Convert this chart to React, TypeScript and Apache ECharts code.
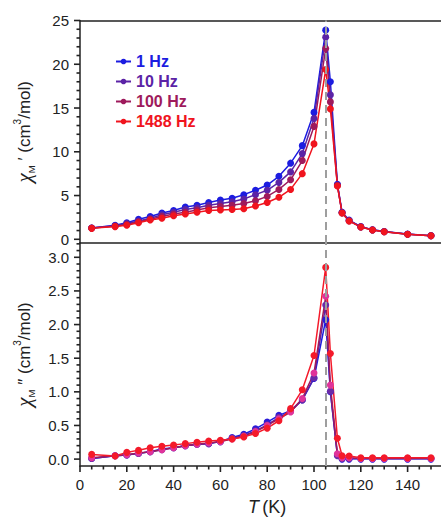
import React, { useEffect, useRef } from "react";
import * as echarts from "echarts";

const temperatures = [5, 15, 20, 25, 30, 35, 40, 45, 50, 55, 60, 65, 70, 75, 80, 85, 90, 95, 100, 105, 107, 110, 112, 115, 120, 125, 130, 140, 150];

const seriesNames = ["1 Hz", "10 Hz", "100 Hz", "1488 Hz"];
const legendColors = ["#1c1ce0", "#5b23a6", "#9e1a5c", "#f0141e"];
const bottomColors = ["#2a1ad8", "#6a2aa8", "#e0339a", "#f41a2a"];

const chiReal1Hz = [1.3, 1.6, 1.9, 2.3, 2.6, 3.0, 3.3, 3.7, 3.9, 4.2, 4.5, 4.7, 5.1, 5.6, 6.2, 7.2, 8.7, 10.7, 14.5, 23.9, 18.0, 6.3, 3.1, 2.2, 1.45, 1.1, 0.9, 0.6, 0.42];
const chiReal10Hz = [1.3, 1.55, 1.8, 2.1, 2.4, 2.8, 3.1, 3.4, 3.6, 3.9, 4.1, 4.3, 4.6, 5.1, 5.6, 6.5, 7.7, 9.8, 13.8, 23.1, 16.5, 6.2, 3.05, 2.15, 1.42, 1.08, 0.88, 0.58, 0.41];
const chiReal100Hz = [1.3, 1.5, 1.7, 2.0, 2.3, 2.6, 2.9, 3.1, 3.35, 3.6, 3.75, 3.9, 4.1, 4.4, 4.9, 5.7, 6.8, 9.0, 12.9, 21.8, 15.7, 6.15, 3.0, 2.1, 1.4, 1.06, 0.87, 0.57, 0.41];
const chiReal1488Hz = [1.25, 1.45, 1.6, 1.9, 2.2, 2.4, 2.7, 2.9, 3.1, 3.3, 3.35, 3.4, 3.5, 3.8, 4.2, 4.8, 5.7, 7.5, 10.9, 19.4, 14.9, 6.1, 3.0, 2.1, 1.4, 1.06, 0.87, 0.57, 0.41];

const chiImag1Hz = [0.01, 0.05, 0.06, 0.085, 0.11, 0.15, 0.17, 0.2, 0.22, 0.23, 0.26, 0.32, 0.37, 0.45, 0.55, 0.65, 0.72, 0.88, 1.2, 2.07, 1.0, 0.06, 0.0, 0.0, 0.0, 0.0, 0.0, 0.0, 0.0];
const chiImag10Hz = [0.01, 0.05, 0.06, 0.085, 0.11, 0.14, 0.17, 0.2, 0.22, 0.23, 0.26, 0.31, 0.35, 0.42, 0.51, 0.62, 0.71, 0.88, 1.21, 2.29, 1.01, 0.05, 0.01, 0.01, 0.01, 0.01, 0.01, 0.01, 0.01];
const chiImag100Hz = [0.02, 0.05, 0.065, 0.09, 0.11, 0.14, 0.17, 0.2, 0.22, 0.24, 0.26, 0.3, 0.34, 0.41, 0.5, 0.6, 0.7, 0.9, 1.28, 2.42, 1.1, 0.08, 0.02, 0.02, 0.01, 0.01, 0.01, 0.01, 0.01];
const chiImag1488Hz = [0.07, 0.045, 0.1, 0.13, 0.17, 0.19, 0.21, 0.23, 0.25, 0.27, 0.28, 0.3, 0.33, 0.38, 0.46, 0.57, 0.75, 1.03, 1.54, 2.85, 1.57, 0.31, 0.05, 0.045, 0.02, 0.02, 0.02, 0.02, 0.02];

// axis ranges and tick steps
const xMin = 0;
const xMax = 160;
const xStep = 20;
const xMinorStep = 5;
const yTopMin = 0;
const yTopMax = 25;
const yTopStep = 5;
const yTopMinorStep = 1;
const yBottomMin = 0;
const yBottomMax = 3;
const yBottomStep = 0.5;
const yBottomMinorStep = 0.1;
const yTopFrameMin = -0.5;
const yBottomFrameMin = -0.1;
const yBottomFrameTop = 3.2;

const peakTemperature = 105;

const topData = [chiReal1Hz, chiReal10Hz, chiReal100Hz, chiReal1488Hz];
const bottomData = [chiImag1Hz, chiImag10Hz, chiImag100Hz, chiImag1488Hz];

const FONT = "'Liberation Sans', Arial, sans-serif";
const AXIS_COLOR = "#222222";
const TEXT_COLOR = "#222";
const MAJOR_LEN = 6;
const MINOR_LEN = 3.5;

// layout (pixels)
const PLOT_LEFT = 80;
const PLOT_WIDTH = 374.4; // 0..160 K
const TOP_FRAME = { top: 20.5, height: 222.5 };
const BOTTOM_FRAME = { top: 243, height: 223 };
const TOP_DATA = { top: 20.5, height: 218.8 };
const BOTTOM_DATA = { top: 257.3, height: 201.8 };

function pairs(values: number[]) {
  return temperatures.map((t, i) => [t, values[i]]);
}

function tickValues(from: number, to: number, step: number) {
  const out: number[] = [];
  const n = Math.round((to - from) / step);
  for (let i = 0; i <= n; i++) out.push(+(from + i * step).toFixed(6));
  return out;
}

function isMultiple(v: number, step: number) {
  const r = v / step;
  return Math.abs(r - Math.round(r)) < 1e-6;
}

function nameRich() {
  return {
    c: { fontFamily: "'Liberation Serif', serif", fontStyle: "italic", fontSize: 21, color: TEXT_COLOR, lineHeight: 24, verticalAlign: "middle" },
    s: { fontFamily: FONT, fontSize: 9.5, color: TEXT_COLOR, lineHeight: 24, verticalAlign: "bottom" },
    p: { fontFamily: FONT, fontSize: 17, color: TEXT_COLOR, lineHeight: 24, verticalAlign: "middle" },
    n: { fontFamily: FONT, fontSize: 17, color: TEXT_COLOR, lineHeight: 24, verticalAlign: "middle" },
    e: { fontFamily: FONT, fontSize: 10, color: TEXT_COLOR, lineHeight: 24, verticalAlign: "top" },
  };
}

const lineOnly = () => ({ show: true, lineStyle: { color: AXIS_COLOR, width: 1.5 } });
const noTick = () => ({ show: false });
const noLabel = () => ({ show: false });
const noSplit = () => ({ show: false });

export default function App() {
  const ref = useRef<HTMLDivElement>(null);

  useEffect(() => {
    if (!ref.current) return;
    const chart = echarts.init(ref.current, undefined, { renderer: "svg" });

    const lineSeries: any[] = [];
    topData.forEach((vals, i) => {
      lineSeries.push({
        name: seriesNames[i],
        type: "line",
        xAxisIndex: 3,
        yAxisIndex: 2,
        data: pairs(vals),
        symbol: "circle",
        symbolSize: 7,
        color: legendColors[i],
        lineStyle: { width: 1.5, color: legendColors[i] },
        itemStyle: { color: legendColors[i] },
        z: 3,
      });
    });
    bottomData.forEach((vals, i) => {
      lineSeries.push({
        name: seriesNames[i],
        type: "line",
        xAxisIndex: 4,
        yAxisIndex: 3,
        data: pairs(vals),
        symbol: "circle",
        symbolSize: 7,
        color: bottomColors[i],
        lineStyle: { width: 1.5, color: i === 3 ? bottomColors[i] : legendColors[i] },
        itemStyle: { color: bottomColors[i] },
        z: 3,
      });
    });

    const guide = (xi: number, yi: number) => ({
      name: "guide" + xi,
      type: "line",
      xAxisIndex: xi,
      yAxisIndex: yi,
      data: [],
      z: 1,
      markLine: {
        silent: true,
        symbol: ["none", "none"],
        label: { show: false },
        lineStyle: { color: "#9e9e9e", type: [8, 5], width: 2 },
        data: [{ xAxis: peakTemperature }],
        animation: false,
      },
    });

    const makeGrid = (f: { top: number; height: number }) => ({
      left: PLOT_LEFT, top: f.top, width: PLOT_WIDTH, height: f.height, outerBoundsMode: "none",
    });

    const option: any = {
      animation: false,
      grid: [makeGrid(TOP_FRAME), makeGrid(BOTTOM_FRAME), makeGrid(TOP_DATA), makeGrid(BOTTOM_DATA)],
      legend: {
        orient: "vertical",
        left: 110,
        top: 48,
        itemWidth: 15,
        itemHeight: 7,
        itemGap: 3,
        textStyle: { fontFamily: FONT, fontSize: 16, fontWeight: "bold", lineHeight: 17 },
        data: seriesNames.map((n, i) => ({ name: n, textStyle: { color: legendColors[i] } })),
      },
      xAxis: [
        { type: "value", gridIndex: 0, min: xMin, max: xMax, interval: xStep, position: "bottom",
          axisLine: { ...lineOnly(), onZero: false }, axisTick: noTick(), axisLabel: noLabel(), splitLine: noSplit() },
        { type: "value", gridIndex: 0, min: xMin, max: xMax, interval: xStep, position: "top",
          axisLine: { ...lineOnly(), onZero: false }, axisTick: noTick(), axisLabel: noLabel(), splitLine: noSplit() },
        {
          type: "value", gridIndex: 1, min: xMin, max: xMax, interval: xStep, position: "bottom",
          axisLine: { ...lineOnly(), onZero: false },
          axisTick: noTick(),
          axisLabel: {
            show: true, margin: 11, fontSize: 15, color: TEXT_COLOR, fontFamily: FONT,
            formatter: (v: number) => (v < xMax ? String(v) : ""),
          },
          splitLine: noSplit(),
        },
        { type: "value", gridIndex: 2, min: xMin, max: xMax, interval: xStep,
          axisLine: { show: false }, axisTick: noTick(), axisLabel: noLabel(), splitLine: noSplit() },
        {
          type: "value", gridIndex: 3, min: xMin, max: xMax, interval: xStep, position: "bottom",
          name: "{t|T} {n|(K)}", nameLocation: "middle", nameGap: 39,
          nameTextStyle: {
            rich: {
              t: { fontFamily: FONT, fontStyle: "italic", fontSize: 18, color: TEXT_COLOR },
              n: { fontFamily: FONT, fontSize: 18, color: TEXT_COLOR },
            },
          },
          axisLine: { show: false }, axisTick: noTick(), axisLabel: noLabel(), splitLine: noSplit(),
        },
      ],
      yAxis: [
        {
          type: "value", gridIndex: 0, min: yTopFrameMin, max: yTopMax,
          name: "{c|χ}{s|M}{p| ′ }{n|(cm}{e|3}{n|/mol)}", nameLocation: "middle", nameGap: 44, nameRotate: 90,
          nameTextStyle: { rich: nameRich() },
          axisLine: { ...lineOnly(), onZero: false }, axisTick: noTick(), axisLabel: noLabel(), splitLine: noSplit(),
        },
        {
          type: "value", gridIndex: 1, min: yBottomFrameMin, max: yBottomFrameTop,
          name: "{c|χ}{s|M}{p| ″ }{n|(cm}{e|3}{n|/mol)}", nameLocation: "middle", nameGap: 44, nameRotate: 90,
          nameTextStyle: { rich: nameRich() },
          axisLine: { ...lineOnly(), onZero: false }, axisTick: noTick(), axisLabel: noLabel(), splitLine: noSplit(),
        },
        {
          type: "value", gridIndex: 2, min: yTopMin, max: yTopMax, interval: yTopStep,
          axisLine: { show: false }, axisTick: noTick(),
          axisLabel: { show: true, margin: 11, fontSize: 15, color: TEXT_COLOR, fontFamily: FONT },
          splitLine: noSplit(),
        },
        {
          type: "value", gridIndex: 3, min: yBottomMin, max: yBottomMax, interval: yBottomStep,
          axisLine: { show: false }, axisTick: noTick(),
          axisLabel: {
            show: true, margin: 11, fontSize: 15, color: TEXT_COLOR, fontFamily: FONT,
            formatter: (v: number) => v.toFixed(1),
          },
          splitLine: noSplit(),
        },
      ],
      series: [guide(0, 0), guide(2, 1), ...lineSeries],
    };

    chart.setOption(option);

    // Tick marks placed through the chart's own cartesian coordinate systems.
    const toPoint = (gridIndex: number, x: number, y: number): number[] | null => {
      const p: any = chart.convertToPixel({ gridIndex } as any, [x, y]);
      if (Array.isArray(p) && isFinite(p[0]) && isFinite(p[1])) return p as number[];
      return null;
    };
    const ticks: any[] = [];
    const tickStyle = { stroke: AXIS_COLOR, lineWidth: 1.6 };
    const pushTick = (x1: number, y1: number, x2: number, y2: number) => {
      ticks.push({ type: "line", silent: true, z: 100, zlevel: 0, shape: { x1, y1, x2, y2 }, style: tickStyle });
    };

    tickValues(xMin, xMax, xMinorStep).forEach((v) => {
      if (v >= xMax) return;
      const p = toPoint(1, v, yBottomFrameMin);
      if (!p) return;
      const len = isMultiple(v, xStep) ? MAJOR_LEN : MINOR_LEN;
      pushTick(p[0], p[1], p[0], p[1] + len);
    });
    tickValues(yTopMin, yTopMax, yTopMinorStep).forEach((v) => {
      const p = toPoint(2, xMin, v);
      if (!p) return;
      const len = isMultiple(v, yTopStep) ? MAJOR_LEN : MINOR_LEN;
      pushTick(p[0] - len, p[1], p[0], p[1]);
    });
    tickValues(yBottomMin, yBottomFrameTop, yBottomMinorStep).forEach((v) => {
      const p = toPoint(3, xMin, v);
      if (!p) return;
      const len = isMultiple(v, yBottomStep) ? MAJOR_LEN : MINOR_LEN;
      pushTick(p[0] - len, p[1], p[0], p[1]);
    });

    chart.setOption({ graphic: { elements: ticks } });
    return () => chart.dispose();
  }, []);

  return (
    <div
      ref={ref}
      style={{ position: "fixed", left: 0, top: 0, width: 441, height: 519, background: "#fff", overflow: "hidden" }}
    />
  );
}
